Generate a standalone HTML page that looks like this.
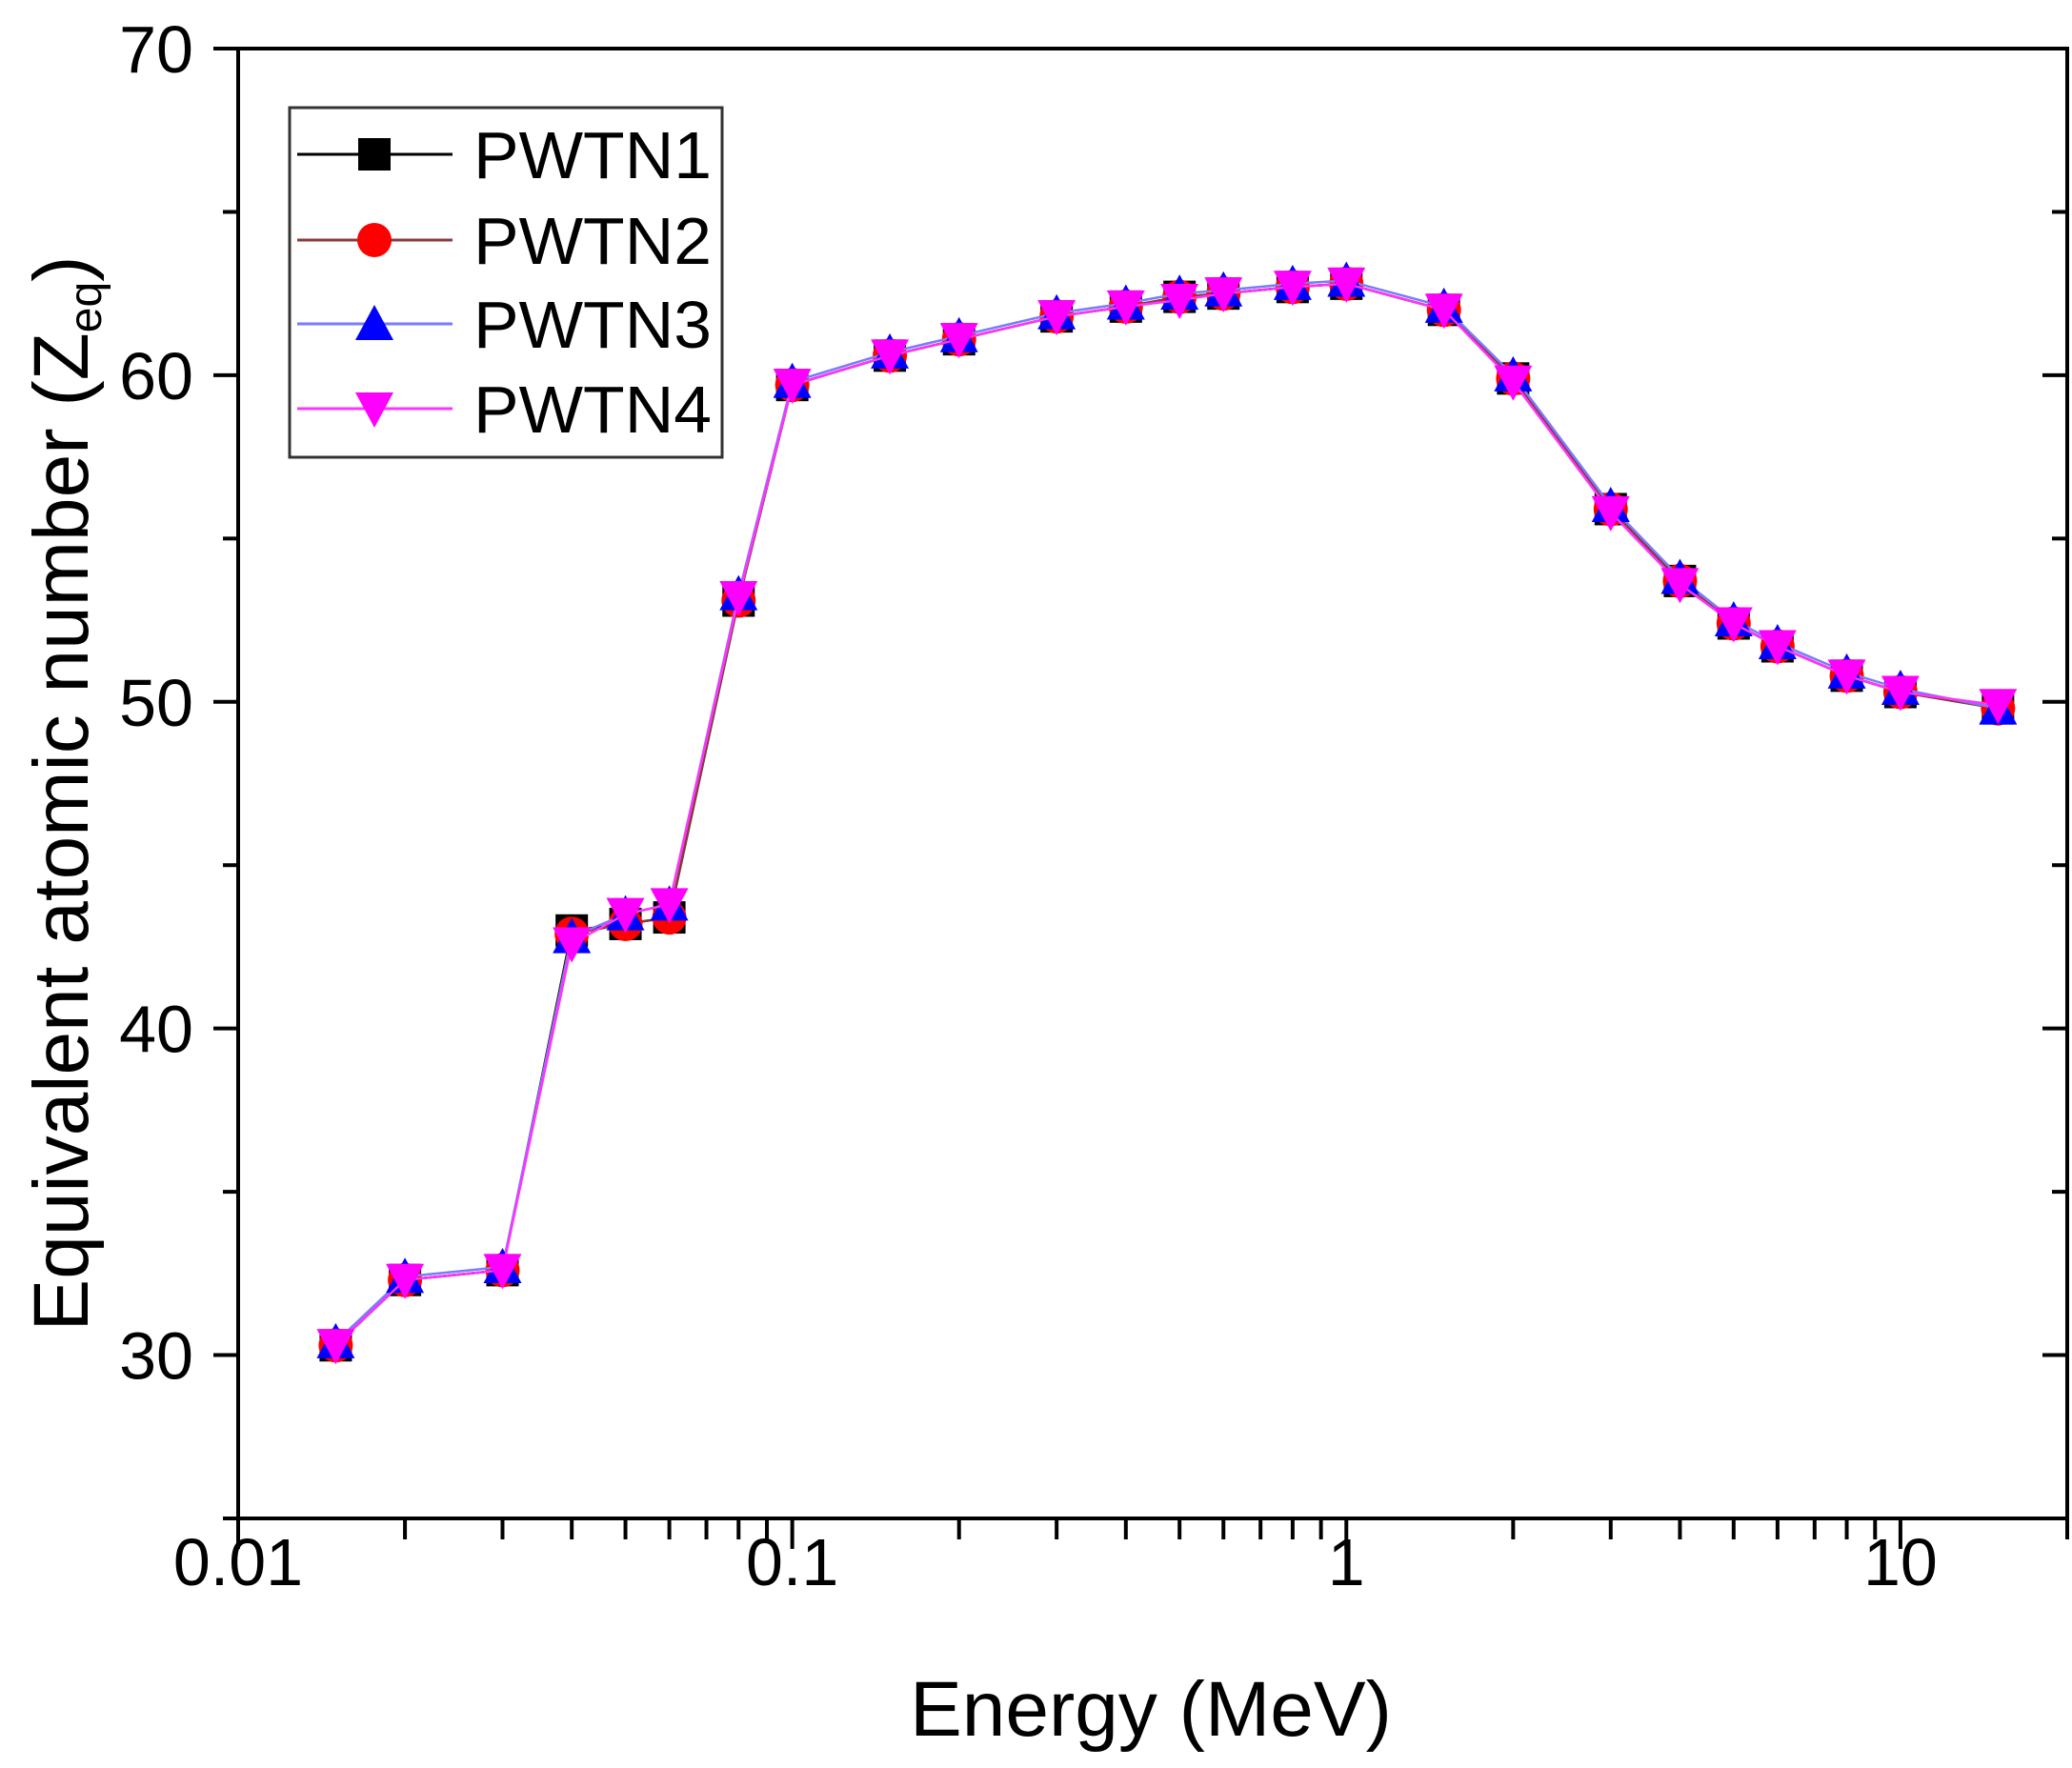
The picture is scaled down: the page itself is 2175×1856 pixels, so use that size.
<!DOCTYPE html>
<html><head><meta charset="utf-8"><style>
html,body{margin:0;padding:0;background:#fff;}
svg{display:block;font-family:"Liberation Sans",Arial,sans-serif;}
</style></head><body>
<svg id="chart" width="2175" height="1856" viewBox="0 0 2175 1856" xmlns="http://www.w3.org/2000/svg">
<g id="axes"></g>
<g id="series"></g>
<g id="legend"></g>
</svg>
<script>
const energies = [0.015,0.02,0.03,0.04,0.05,0.06,0.08,0.1,0.15,0.2,0.3,0.4,0.5,0.6,0.8,1,1.5,2,3,4,5,6,8,10,15];
const pwtn1 = [30.3,32.3,32.6,43.0,43.2,43.4,53.1,59.7,60.6,61.1,61.8,62.1,62.4,62.5,62.7,62.8,62.0,59.9,55.9,53.7,52.4,51.7,50.8,50.3,49.8];
const pwtn2 = [30.3,32.3,32.6,42.9,43.2,43.4,53.1,59.7,60.6,61.1,61.8,62.1,62.4,62.5,62.7,62.8,62.0,59.9,55.9,53.7,52.4,51.7,50.8,50.3,49.8];
const pwtn3 = [30.4,32.4,32.7,42.8,43.5,43.8,53.3,59.8,60.7,61.2,61.9,62.2,62.5,62.6,62.8,62.9,62.1,60.0,56.0,53.8,52.5,51.8,50.9,50.4,49.8];
const pwtn4 = [30.3,32.3,32.6,42.6,43.5,43.8,53.2,59.7,60.6,61.1,61.8,62.1,62.3,62.5,62.7,62.8,62.0,59.8,55.8,53.6,52.4,51.7,50.8,50.3,49.9];
const xTickLabels = ["0.01","0.1","1","10"];
const xTickValues = [0.01,0.1,1,10];
const yTickValues = [30,40,50,60,70];
const seriesNames = ["PWTN1","PWTN2","PWTN3","PWTN4"];

const NS="http://www.w3.org/2000/svg";
const L=250,R=2170,T=51,B=1594;
const xMin=0.01,xMax=20,yMin=25,yMax=70;
function xs(v){return L+(Math.log10(v)-Math.log10(xMin))/(Math.log10(xMax)-Math.log10(xMin))*(R-L);}
function ys(v){return B-(v-yMin)/(yMax-yMin)*(B-T);}
function mk(tag,attrs,parent){const e=document.createElementNS(NS,tag);for(const k in attrs)e.setAttribute(k,attrs[k]);parent.appendChild(e);return e;}

const ax=document.getElementById('axes');
const frame=mk('rect',{x:L,y:T,width:R-L,height:B-T,fill:'none',stroke:'#000','stroke-width':4},ax);


for(let v=25;v<=70;v+=5){
  const y=ys(v);const major=(v%10===0);
  const t=mk('line',{x1:L-(major?26:16),x2:L,y1:y,y2:y,stroke:'#000','stroke-width':4},ax);
  
  
  const t2=mk('line',{x1:R-(major?26:16),x2:R,y1:y,y2:y,stroke:'#000','stroke-width':4},ax);
  
  
}
yTickValues.forEach(v=>{
  const tx=mk('text',{x:203,y:ys(v)+25,'text-anchor':'end','font-size':70},ax);
  tx.textContent=v;
  
  
});
for(let d=-2;d<=1;d++){
  for(let m=1;m<=9;m++){
    const v=m*Math.pow(10,d);if(v>xMax)break;
    const x=xs(v);const major=(m===1);
    const t=mk('line',{x1:x,x2:x,y1:B,y2:B+(major?32:22),stroke:'#000','stroke-width':4},ax);
    
    
  }
}
xTickValues.forEach((v,i)=>{
  const tx=mk('text',{x:xs(v),y:1664,'text-anchor':'middle','font-size':70},ax);
  tx.textContent=xTickLabels[i];
  
  
});
const xt=mk('text',{x:1208,y:1822,'text-anchor':'middle','font-size':82},ax);
xt.textContent='Energy (MeV)';


const yt=mk('text',{x:0,y:0,'text-anchor':'middle','font-size':82,transform:'translate(92,833) rotate(-90)'},ax);
yt.innerHTML='Equivalent atomic number (Z<tspan font-size="48" dy="14">eq</tspan><tspan dy="-14">)</tspan>';



const colors=['#000000','#ff0000','#0000ff','#ff00ff'];
const lineColors=['#000000','#8b3a3a','#7a7aff','#ff33ff'];
const data=[pwtn1,pwtn2,pwtn3,pwtn4];
function marker(k,x,y,parent){
  const s=17;let e;
  if(k===0)e=mk('rect',{x:x-s,y:y-s,width:2*s,height:2*s,fill:colors[0]},parent);
  else if(k===1)e=mk('circle',{cx:x,cy:y,r:s+1,fill:colors[1]},parent);
  else if(k===2)e=mk('polygon',{points:`${x},${y-s-3} ${x-s-3},${y+s} ${x+s+3},${y+s}`,fill:colors[2]},parent);
  else e=mk('polygon',{points:`${x-s-3},${y-s} ${x+s+3},${y-s} ${x},${y+s+3}`,fill:colors[3]},parent);
  return e;
}
const sg=document.getElementById('series');
data.forEach((vals,k)=>{
  const g=mk('g',{},sg);
  
  
  const pts=energies.map((e,i)=>xs(e)+','+ys(vals[i])).join(' ');
  const pl=mk('polyline',{points:pts,fill:'none',stroke:lineColors[k],'stroke-width':2.5},g);
  
  
  energies.forEach((e,i)=>{
    const m=marker(k,xs(e),ys(vals[i]),g);
    
    
  });
});

const lg=document.getElementById('legend');
const box=mk('rect',{x:304,y:113,width:454,height:367,fill:'#fff',stroke:'#333','stroke-width':3},lg);


const ly=[162,252,340,429];
seriesNames.forEach((n,k)=>{
  const g=mk('g',{},lg);
  
  
  mk('line',{x1:312,x2:475,y1:ly[k],y2:ly[k],stroke:lineColors[k],'stroke-width':3},g);
  marker(k,393,ly[k],g);
  const t=mk('text',{x:497,y:ly[k]+25,'font-size':70,textLength:250,lengthAdjust:'spacingAndGlyphs'},g);
  t.textContent=n;
});
</script>
</body></html>
